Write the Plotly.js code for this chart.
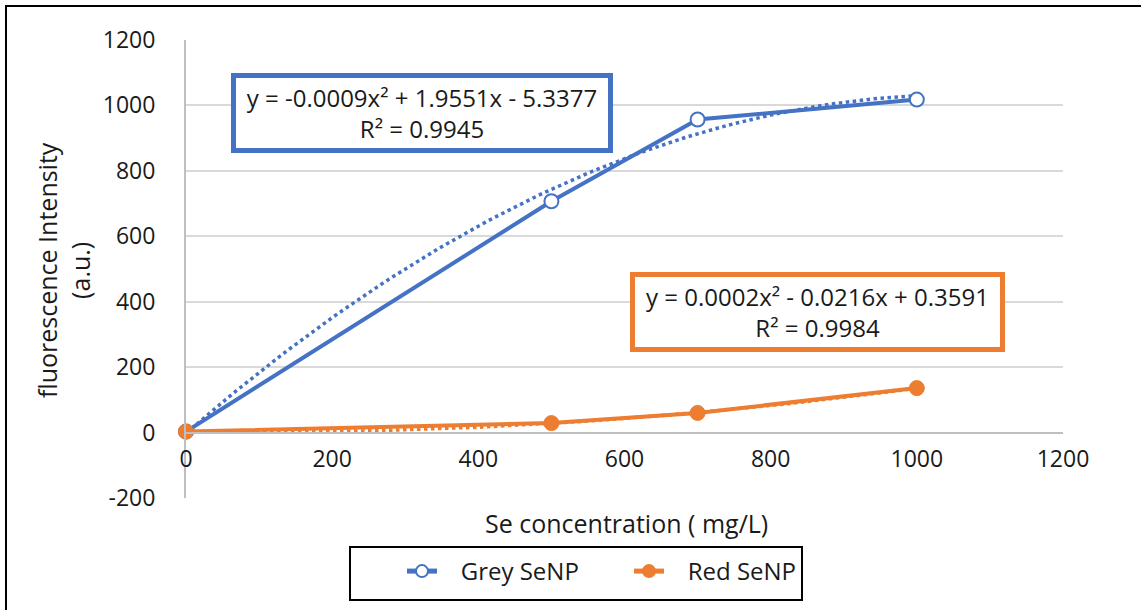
<!DOCTYPE html>
<html>
<head>
<meta charset="utf-8">
<script src="https://cdn.plot.ly/plotly-3.0.1.min.js"></script>
<style>
  html, body { margin: 0; padding: 0; background: #fff; }
  #wrap { position: relative; width: 1141px; height: 610px; overflow: hidden; }
  #chart { position: absolute; left: 0; top: 0; width: 1141px; height: 610px; }
  #frame { position: absolute; left: 5px; top: 5px; width: 1150px; height: 620px;
           border-left: 2px solid #000; border-top: 2px solid #000; pointer-events: none; }
</style>
</head>
<body>
<div id="wrap">
  <div id="chart"></div>
  <div id="frame"></div>
</div>
<script>
// ---- data ----
const concentration = [0, 500, 700, 1000];
const greySeNP = [3, 707, 957, 1018];
const redSeNP = [3, 29, 60, 136];
const seriesNames = ["Grey SeNP", "Red SeNP"];
const greyEquation = "y = -0.0009x² + 1.9551x - 5.3377<br>R² = 0.9945";
const redEquation = "y = 0.0002x² - 0.0216x + 0.3591<br>R² = 0.9984";
const xTicks = [0, 200, 400, 600, 800, 1000, 1200];
const yTicks = [-200, 0, 200, 400, 600, 800, 1000, 1200];

const BLUE = "#4472C4", ORANGE = "#ED7D31";
const FONT = "Open Sans, Liberation Sans, sans-serif";
const TXT = "#1a1a1a";
const GAP = "\u00a0\u00a0\u00a0";

// quadratic least-squares fit (as a chart trendline does)
function quadFit(xs, ys) {
  let S = [0,0,0,0,0], T = [0,0,0];
  for (let i = 0; i < xs.length; i++) {
    let p = 1;
    for (let k = 0; k < 5; k++) { S[k] += p; if (k < 3) T[k] += p * ys[i]; p *= xs[i]; }
  }
  const A = [[S[0],S[1],S[2],T[0]],[S[1],S[2],S[3],T[1]],[S[2],S[3],S[4],T[2]]];
  for (let c = 0; c < 3; c++) {
    let m = c; for (let r = c+1; r < 3; r++) if (Math.abs(A[r][c]) > Math.abs(A[m][c])) m = r;
    [A[c], A[m]] = [A[m], A[c]];
    for (let r = 0; r < 3; r++) if (r !== c) {
      const f = A[r][c] / A[c][c];
      for (let k = c; k < 4; k++) A[r][k] -= f * A[c][k];
    }
  }
  return [A[0][3]/A[0][0], A[1][3]/A[1][1], A[2][3]/A[2][2]];
}
function trend(xs, ys) {
  const [c, b, a] = quadFit(xs, ys);
  const lo = Math.min(...xs), hi = Math.max(...xs);
  const tx = [], ty = [];
  for (let i = 0; i <= 100; i++) { const x = lo + (hi - lo) * i / 100; tx.push(x); ty.push(a*x*x + b*x + c); }
  return {x: tx, y: ty};
}
const gT = trend(concentration, greySeNP);
const rT = trend(concentration, redSeNP);

const traces = [
  {x: gT.x, y: gT.y, mode: "lines", line: {color: BLUE, width: 3.5, dash: "dot"}, showlegend: false, hoverinfo: "skip", cliponaxis: false},
  {x: rT.x, y: rT.y, mode: "lines", line: {color: ORANGE, width: 3.5, dash: "dot"}, showlegend: false, hoverinfo: "skip", cliponaxis: false},
  {x: concentration, y: greySeNP, name: GAP + seriesNames[0], mode: "lines+markers", cliponaxis: false,
   line: {color: BLUE, width: 4}, marker: {symbol: "circle", size: 14, color: "#fff", line: {color: BLUE, width: 2}}},
  {x: concentration, y: redSeNP, name: GAP + seriesNames[1], mode: "lines+markers", cliponaxis: false,
   line: {color: ORANGE, width: 4}, marker: {symbol: "circle", size: 15, color: ORANGE, line: {color: ORANGE, width: 1}}}
];

const L = 186, R = 1063, T = 40, B = 498;
const px = v => (v - L) / (R - L);
const py = v => (B - v) / (B - T);

const layout = {
  width: 1141, height: 610,
  margin: {l: L, r: 1141 - R, t: T, b: 610 - B, pad: 0},
  paper_bgcolor: "#fff", plot_bgcolor: "#fff",
  font: {family: FONT, size: 24, color: TXT},
  showlegend: true,
  xaxis: {
    range: [0, 1200], tickvals: xTicks, ticktext: xTicks.map(String),
    anchor: "free", position: (0 - (-200)) / 1400,
    showgrid: false, zeroline: false, showline: true, linecolor: "#bfbfbf", linewidth: 2,
    ticks: "", ticklabelstandoff: 6, tickfont: {size: 23, color: TXT}
  },
  yaxis: {
    range: [-200, 1200], tickvals: yTicks, ticktext: yTicks.map(String),
    showgrid: true, gridcolor: "#d9d9d9", gridwidth: 2,
    zeroline: true, zerolinecolor: "#d0d0d0", zerolinewidth: 2,
    showline: true, linecolor: "#bfbfbf", linewidth: 2,
    ticks: "", ticklabelstandoff: 24, tickfont: {size: 23, color: TXT}
  },
  legend: {
    orientation: "h", x: px(402), xanchor: "left", y: py(549), yanchor: "top",
    borderwidth: 0, bgcolor: "rgba(0,0,0,0)",
    font: {size: 24, color: TXT}, itemsizing: "constant", entrywidth: 182
  },
  shapes: [
    {type: "rect", xref: "paper", yref: "paper", x0: px(350), x1: px(802), y0: py(547), y1: py(600),
     line: {color: "#000", width: 2}, fillcolor: "rgba(0,0,0,0)", layer: "above"}
  ],
  annotations: [
    {xref: "paper", yref: "paper", x: px(63), y: py(270), text: "fluorescence Intensity<br>(a.u.)",
     textangle: -90, showarrow: false, font: {size: 25, color: TXT}, xanchor: "center", yanchor: "middle"},
    {xref: "paper", yref: "paper", x: px(626), y: py(523), text: "Se concentration ( mg/L)",
     showarrow: false, font: {size: 25, color: TXT}, xanchor: "center", yanchor: "middle"},
    {xref: "paper", yref: "paper", x: px(422), y: py(113), text: greyEquation, showarrow: false,
     font: {size: 24, color: TXT}, bgcolor: "#fff", bordercolor: BLUE, borderwidth: 5, borderpad: 4,
     width: 364, height: 62, align: "center", xanchor: "center", yanchor: "middle"},
    {xref: "paper", yref: "paper", x: px(817), y: py(312), text: redEquation, showarrow: false,
     font: {size: 24, color: TXT}, bgcolor: "#fff", bordercolor: ORANGE, borderwidth: 5, borderpad: 4,
     width: 357, height: 62, align: "center", xanchor: "center", yanchor: "middle"}
  ]
};

Plotly.newPlot("chart", traces, layout, {displayModeBar: false, staticPlot: true});
</script>
</body>
</html>
